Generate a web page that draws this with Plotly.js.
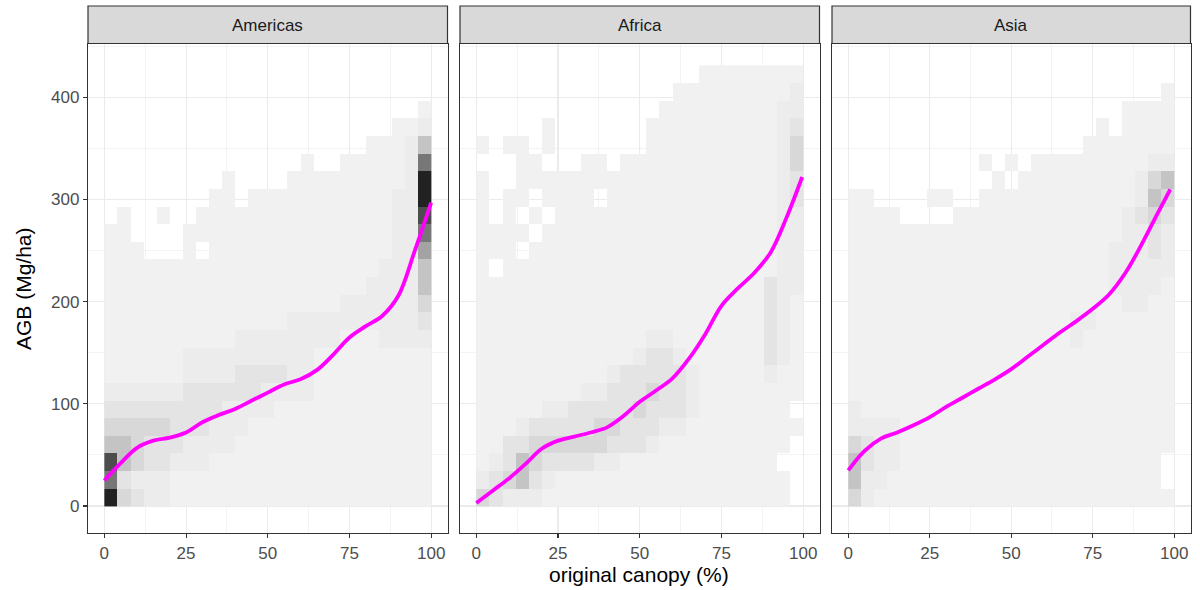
<!DOCTYPE html>
<html>
<head>
<meta charset="utf-8">
<script src="https://cdn.plot.ly/plotly-3.0.1.min.js"></script>
<style>html,body{margin:0;padding:0;background:#fff;}#chart{width:1200px;height:590px;}</style>
</head>
<body>
<div id="chart"></div>
<script>
// ---------------- DATA ----------------
const panels = ["Americas", "Africa", "Asia"];
const xTicks = [0, 25, 50, 75, 100];
const yTicks = [0, 100, 200, 300, 400];

// 2D-bin shade levels (0 = empty, 1 = lightest ... 9 = darkest), 25 x 25 bins,
// listed from the top row (AGB ~ 414-431) down to the bottom row (0-17), left (0-4 %) to right (96-100 %).
const americasBins = [
  "0000000000000000000000000",
  "0000000000000000000000000",
  "0000000000000000000000001",
  "0000000000000000000000112",
  "0000000000000000000011125",
  "0000000000000001001111127",
  "0000000001000011111111129",
  "0000000011011111111111229",
  "0100100111111111111111228",
  "1100001111111111111111227",
  "1110001011111111111111226",
  "1111111111111111111112225",
  "1111111111111111111122225",
  "1111111111111111112222224",
  "1111111111111122222222223",
  "1111111111222222221112222",
  "1111112222222222111111111",
  "1111112222333322111111111",
  "2222223333332222111111111",
  "3333333332222111111111111",
  "4444433322211111111111111",
  "5543332222111111111111111",
  "8543322211111111111111111",
  "7322211111111111111111111",
  "9432211111111111111111111"
];
const africaBins = [
  "0000000000000000011111111",
  "0000000000000001111111112",
  "0000000000000011111111122",
  "0000010000000111111111123",
  "1011010000000111111111124",
  "0001100011011111111111124",
  "1001111111111111111111123",
  "1011011110111111111111123",
  "1010101111111111111111122",
  "1111011111111111111111122",
  "1110111111111111111111122",
  "1011111111111111111111122",
  "1111111111111111111111322",
  "1111111111111111111111321",
  "1111111111111111111111321",
  "1111111111111221111111321",
  "1111111111112332111111321",
  "1111111111233333211111211",
  "1111111122333433211111111",
  "1111122333334333211111110",
  "1112333334433322111111111",
  "1133444444333211111111110",
  "1235433332211111111111100",
  "2345321111111111111111110",
  "4322211111111111111111110"
];
const asiaBins = [
  "0000000000000000000000000",
  "0000000000000000000000001",
  "0000000000000000000001111",
  "0000000000000000000101111",
  "0000000000000000001111111",
  "0000000000101011111111122",
  "0000000000010111111111245",
  "1100001100111111111111254",
  "1111000011111111111112343",
  "1111111111111111111112232",
  "1111111111111111111122232",
  "1111111111111111111122222",
  "1111111111111111111122221",
  "1111111111111111111112211",
  "1111111111111111122111111",
  "1111111111111111121111111",
  "1111111111111111111111111",
  "1111111111111111111111111",
  "1111111111111111111111111",
  "2111111111111111111111111",
  "2222111111111111111111111",
  "4322111111111111111111111",
  "5322111111111111111111110",
  "5221111111111111111111110",
  "4211111111111111111111111"
];

// smoothed AGB trend (Mg/ha) against original canopy (%)
const smoothX = [0, 5, 10, 15, 20, 25, 30, 35, 40, 45, 50, 55, 60, 65, 70, 75, 80, 85, 90, 95, 100];
const americasSmooth = [25, 42, 57, 64, 67, 72, 82, 89, 95, 103, 111, 119, 124, 133, 148, 165, 176, 186, 206, 250, 297];
const africaSmoothX = [0, 5, 10, 15, 20, 25, 30, 35, 40, 45, 50, 55, 60, 65, 70, 75, 80, 85, 90, 95, 99.7];
const africaSmooth = [3, 15, 27, 41, 56, 64, 68, 72, 77, 88, 102, 113, 125, 144, 168, 196, 213, 228, 248, 283, 322];
const asiaSmoothX = [0, 5, 10, 15, 20, 25, 30, 35, 40, 45, 50, 55, 60, 65, 70, 75, 80, 85, 90, 95, 98.8];
const asiaSmooth = [35, 54, 66, 72, 79, 87, 97, 106, 115, 124, 134, 146, 158, 170, 181, 193, 207, 228, 256, 287, 310];

// ---------------- BUILD ----------------
const BIN_W = 4, BIN_H = 17.25;
function toZ(rows) {
  return rows.slice().reverse().map(r => r.split("").map(c => c === "0" ? null : +c));
}
const greys = [[0, "#F1F1F1"], [0.125, "#ECECEC"], [0.25, "#E4E4E4"], [0.375, "#D8D8D8"],
  [0.5, "#C4C4C4"], [0.625, "#A3A3A3"], [0.75, "#777777"], [0.875, "#4D4D4D"], [1, "#222222"]];

const binSets = [americasBins, africaBins, asiaBins];
const lineX = [smoothX, africaSmoothX, asiaSmoothX];
const lineY = [americasSmooth, africaSmooth, asiaSmooth];
const axSuffix = ["", "2", "3"];

const traces = [];
binSets.forEach((b, i) => {
  traces.push({
    type: "heatmap", z: toZ(b), x0: BIN_W / 2, dx: BIN_W, y0: BIN_H / 2, dy: BIN_H,
    colorscale: greys, zmin: 1, zmax: 9, showscale: false, hoverinfo: "skip",
    xaxis: "x" + axSuffix[i], yaxis: "y" + axSuffix[i]
  });
  traces.push({
    type: "scatter", mode: "lines", x: lineX[i], y: lineY[i],
    line: { color: "#FF00FF", width: 3.8, shape: "spline", smoothing: 1 },
    hoverinfo: "skip",
    xaxis: "x" + axSuffix[i], yaxis: "y" + axSuffix[i]
  });
});

const W = 1200, H = 590;
const panelPx = [[88, 447.5], [460, 819.5], [832, 1190.5]];
const plotTop = 44, plotBot = 533;
const yDom = [(H - plotBot) / H, (H - plotTop) / H];
const FONT = "Liberation Sans, Arial, Helvetica, sans-serif";

const gridCommon = {
  showgrid: true, gridcolor: "#EBEBEB", gridwidth: 1.1, zeroline: false,
  showline: true, mirror: true, linecolor: "#333333", linewidth: 1.2,
  ticks: "outside", ticklen: 4, tickwidth: 1.1, tickcolor: "#333333",
  tickfont: { family: FONT, size: 17, color: "#4D4D4D" },
  layer: "below traces"
};

const layout = {
  width: W, height: H, margin: { l: 0, r: 0, t: 0, b: 0 },
  paper_bgcolor: "#FFFFFF", plot_bgcolor: "#FFFFFF", showlegend: false,
  shapes: [], annotations: []
};

panelPx.forEach((p, i) => {
  const s = axSuffix[i];
  layout["xaxis" + s] = Object.assign({}, gridCommon, {
    domain: [p[0] / W, p[1] / W], range: [-5, 105], anchor: "y" + s,
    tickmode: "array", tickvals: xTicks, ticktext: xTicks.map(String),
    minor: { tickmode: "array", tickvals: [12.5, 37.5, 62.5, 87.5], showgrid: true, gridcolor: "#EBEBEB", gridwidth: 0.6, ticks: "" }
  });
  layout["yaxis" + s] = Object.assign({}, gridCommon, {
    domain: yDom, range: [-26.4, 452.2], anchor: "x" + s,
    tickmode: "array", tickvals: yTicks, ticktext: yTicks.map(String),
    showticklabels: i === 0, ticks: i === 0 ? "outside" : "",
    minor: { tickmode: "array", tickvals: [50, 150, 250, 350, 450], showgrid: true, gridcolor: "#EBEBEB", gridwidth: 0.6, ticks: "" }
  });
  layout.shapes.push({
    type: "rect", xref: "paper", yref: "paper",
    x0: p[0] / W, x1: p[1] / W, y0: (H - 43.5) / H, y1: (H - 6) / H,
    fillcolor: "#D9D9D9", line: { color: "#333333", width: 1.2 }
  });
  layout.annotations.push({
    xref: "paper", yref: "paper", x: (p[0] + p[1]) / 2 / W, y: (H - 25) / H,
    text: panels[i], showarrow: false, xanchor: "center", yanchor: "middle",
    font: { family: FONT, size: 17, color: "#1A1A1A" }
  });
});

layout.annotations.push({
  xref: "paper", yref: "paper", x: 639 / W, y: (H - 574) / H,
  text: "original canopy (%)", showarrow: false, xanchor: "center", yanchor: "middle",
  font: { family: FONT, size: 21, color: "#000000" }
});
layout.annotations.push({
  xref: "paper", yref: "paper", x: 23 / W, y: (H - 289) / H,
  text: "AGB (Mg/ha)", showarrow: false, textangle: -90, xanchor: "center", yanchor: "middle",
  font: { family: FONT, size: 21, color: "#000000" }
});

Plotly.newPlot("chart", traces, layout, { staticPlot: true, displayModeBar: false });
</script>
</body>
</html>
